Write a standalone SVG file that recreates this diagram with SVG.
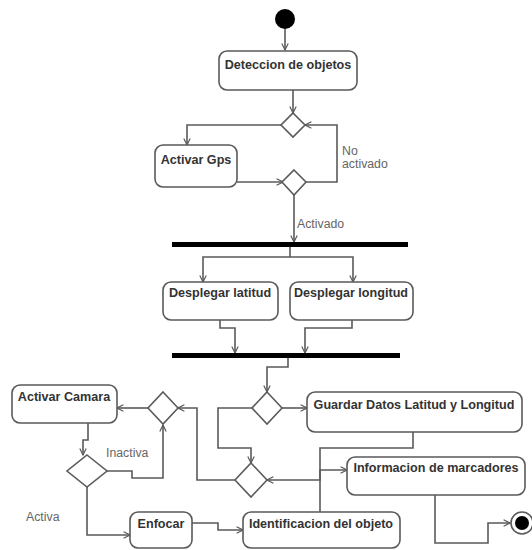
<svg xmlns="http://www.w3.org/2000/svg" width="532" height="550" viewBox="0 0 532 550">
  <style>
    .box { fill: #ffffff; stroke: #5a5a5a; stroke-width: 1.6; }
    .dia { fill: #ffffff; stroke: #5a5a5a; stroke-width: 1.6; }
    .bar { fill: #000000; }
    .edge { fill: none; stroke: #5a5a5a; stroke-width: 1.6; marker-end: url(#arrow); }
    .line { fill: none; stroke: #5a5a5a; stroke-width: 1.6; }
    .t { font-family: "Liberation Sans", Arial, sans-serif; font-size: 12.6px; font-weight: bold; fill: #333333; text-anchor: middle; }
    .lbl { font-family: "Liberation Sans", Arial, sans-serif; font-size: 12.3px; fill: #666666; }
  </style>
  <defs>
    <marker id="arrow" viewBox="0 0 10 10" refX="9" refY="5" markerWidth="8" markerHeight="8" markerUnits="userSpaceOnUse" orient="auto">
      <path d="M1,1 L9,5 L1,9" fill="none" stroke="#5a5a5a" stroke-width="1.5"/>
    </marker>
  </defs>

  <rect width="532" height="550" fill="#ffffff"/>

  <!-- connectors -->
  <g id="connectors">
    <path class="edge" d="M285,29 L285,50"/>
    <path class="edge" d="M293,90 L293,113"/>
    <path class="edge" d="M282,125 L187,125 L187,145"/>
    <path class="edge" d="M237,182 L283,182"/>
    <path class="edge" d="M305,182 L337,182 L337,125 L305,125"/>
    <path class="edge" d="M294,194 L294,242"/>
    <path class="line" d="M290,247 L290,257"/>
    <path class="edge" d="M290,257 L203,257 L203,282"/>
    <path class="edge" d="M290,257 L353,257 L353,282"/>
    <path class="edge" d="M220,320 L220,328 L235,328 L235,353"/>
    <path class="edge" d="M352,320 L352,328 L305,328 L305,353"/>
    <path class="edge" d="M288,358 L288,367 L267,367 L267,392"/>
    <path class="edge" d="M282,408 L307,408"/>
    <path class="edge" d="M252,408 L218,408 L218,448 L251,448 L251,463"/>
    <path class="edge" d="M413,432 L413,448 L320,448 L320,480 L267,480"/>
    <path class="edge" d="M235,480 L197,480 L197,408 L178,408"/>
    <path class="edge" d="M148,408 L117,408"/>
    <path class="edge" d="M88,423 L88,440 L83,440 L83,455"/>
    <path class="edge" d="M107,471 L132,471 L132,478 L163,478 L163,425"/>
    <path class="edge" d="M87,487 L87,535 L130,535"/>
    <path class="edge" d="M192,523 L218,523 L218,530 L243,530"/>
    <path class="edge" d="M320,512 L320,470 L347,470"/>
    <path class="edge" d="M435,495 L435,543 L488,543 L488,523 L510,523"/>
    <text class="lbl" x="342" y="155">No</text>
    <text class="lbl" x="342" y="168">activado</text>
    <text class="lbl" x="297" y="228">Activado</text>
    <text class="lbl" x="106" y="457">Inactiva</text>
    <text class="lbl" x="26" y="521">Activa</text>
  </g>

  <!-- initial and final nodes -->
  <g id="start"><circle cx="285" cy="19" r="10" fill="#000000"/></g>
  <g id="end">
    <circle cx="522" cy="523" r="11" fill="#ffffff" stroke="#5a5a5a" stroke-width="1.6"/>
    <circle cx="522" cy="523" r="7" fill="#000000"/>
  </g>

  <!-- actions -->
  <g id="deteccion">
    <rect class="box" x="219" y="51" width="138" height="39" rx="8"/>
    <text class="t" x="288" y="69">Deteccion de objetos</text>
  </g>
  <g id="activar-gps">
    <rect class="box" x="155" y="145" width="82" height="42" rx="8"/>
    <text class="t" x="196" y="164">Activar Gps</text>
  </g>
  <g id="desplegar-latitud">
    <rect class="box" x="163" y="282" width="115" height="38" rx="8"/>
    <text class="t" x="220" y="297">Desplegar latitud</text>
  </g>
  <g id="desplegar-longitud">
    <rect class="box" x="290" y="282" width="123" height="38" rx="8"/>
    <text class="t" x="351" y="297">Desplegar longitud</text>
  </g>
  <g id="guardar-datos">
    <rect class="box" x="307" y="392" width="215" height="40" rx="8"/>
    <text class="t" x="414" y="409">Guardar Datos Latitud y Longitud</text>
  </g>
  <g id="activar-camara">
    <rect class="box" x="12" y="385" width="105" height="38" rx="8"/>
    <text class="t" x="64" y="401">Activar Camara</text>
  </g>
  <g id="informacion-marcadores">
    <rect class="box" x="347" y="457" width="178" height="38" rx="8"/>
    <text class="t" x="436" y="472">Informacion de marcadores</text>
  </g>
  <g id="enfocar">
    <rect class="box" x="130" y="512" width="62" height="36" rx="8"/>
    <text class="t" x="161" y="528">Enfocar</text>
  </g>
  <g id="identificacion">
    <rect class="box" x="243" y="512" width="157" height="36" rx="8"/>
    <text class="t" x="321" y="528">Identificacion del objeto</text>
  </g>

  <!-- decisions -->
  <g id="decision-gps"><path class="dia" d="M293,113 L305,125 L293,137 L281,125 Z"/></g>
  <g id="decision-activado"><path class="dia" d="M294,170 L306,182 L294,195 L282,182 Z"/></g>
  <g id="decision-guardar"><path class="dia" d="M267,392 L282,408 L267,424 L252,408 Z"/></g>
  <g id="decision-merge"><path class="dia" d="M251,463 L267,480 L251,497 L235,480 Z"/></g>
  <g id="decision-camara"><path class="dia" d="M163,392 L178,408 L163,424 L148,408 Z"/></g>
  <g id="decision-activa"><path class="dia" d="M87,455 L107,471 L87,487 L67,471 Z"/></g>

  <!-- fork / join bars -->
  <g id="fork"><rect class="bar" x="172" y="242" width="236" height="5"/></g>
  <g id="join"><rect class="bar" x="172" y="353" width="228" height="5"/></g>
</svg>
